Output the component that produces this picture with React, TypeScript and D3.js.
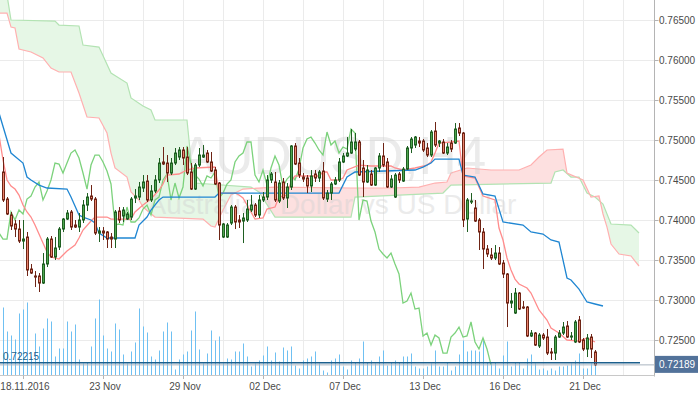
import React from 'react';
import * as d3 from 'd3';

// ---------- DATA ----------
const priceTicks = [0.765, 0.76, 0.755, 0.75, 0.745, 0.74, 0.735, 0.73, 0.725];
const dateLabels = ['18.11.2016', '23 Nov', '29 Nov', '02 Dec', '07 Dec', '13 Dec', '16 Dec', '21 Dec'];
const dateLabelBars = [5, 25, 45, 65, 85, 105, 125, 145];

const open = [
  0.74600,0.74262,0.74062,0.73950,0.73887,0.73737,0.73787,0.73387,0.73300,0.73300,
  0.73212,0.73450,0.73762,0.73537,0.73662,0.73887,0.74012,0.74100,0.73937,0.73912,
  0.74000,0.74187,0.74300,0.74262,0.73837,0.73862,0.73850,0.73787,0.73762,0.74112,
  0.74050,0.74012,0.74037,0.74275,0.74287,0.74400,0.74487,0.74250,0.74362,0.74500,
  0.74725,0.74712,0.74587,0.74712,0.74787,0.74875,0.74787,0.74600,0.74387,0.74687,
  0.74787,0.74837,0.74725,0.74625,0.74462,0.73787,0.73787,0.73962,0.74162,0.74000,
  0.73987,0.74000,0.74125,0.74187,0.74062,0.74250,0.74287,0.74500,0.74475,0.74237,
  0.74475,0.74275,0.74412,0.74925,0.74712,0.74537,0.74525,0.74425,0.74575,0.74525,
  0.74612,0.74262,0.74337,0.74450,0.74500,0.74725,0.74800,0.74837,0.74887,0.74975,
  0.74650,0.74475,0.74575,0.74437,0.74650,0.74800,0.74725,0.74412,0.74287,0.74575,
  0.74487,0.74637,0.74900,0.74937,0.74987,0.74987,0.74900,0.74812,0.75112,0.74962,
  0.74975,0.74837,0.74962,0.74962,0.75150,0.75087,0.74012,0.74225,0.74150,0.74000,
  0.73850,0.73637,0.73562,0.73525,0.73587,0.73462,0.73325,0.72962,0.72837,0.73087,
  0.72912,0.72912,0.72550,0.72587,0.72425,0.72562,0.72537,0.72350,0.72337,0.72537,
  0.72587,0.72675,0.72537,0.72475,0.72750,0.72500,0.72387,0.72537,0.72350];
const high = [
  0.74787,0.74287,0.74100,0.74000,0.74000,0.74000,0.73850,0.73450,0.73362,0.73337,
  0.73587,0.73787,0.73800,0.73787,0.73912,0.74025,0.74125,0.74125,0.74000,0.74087,
  0.74250,0.74337,0.74437,0.74287,0.73912,0.73912,0.73862,0.73837,0.74125,0.74162,
  0.74162,0.74100,0.74287,0.74387,0.74475,0.74562,0.74562,0.74437,0.74562,0.74775,
  0.74912,0.74812,0.74775,0.74900,0.74912,0.74912,0.74912,0.74712,0.74712,0.74900,
  0.74937,0.74875,0.74850,0.74662,0.74475,0.73962,0.73962,0.74187,0.74187,0.74062,
  0.74087,0.74250,0.74312,0.74212,0.74312,0.74350,0.74562,0.74600,0.74600,0.74500,
  0.74525,0.74462,0.74937,0.74962,0.74775,0.74587,0.74562,0.74625,0.74625,0.74625,
  0.74725,0.74375,0.74475,0.74537,0.74775,0.74837,0.75037,0.75137,0.75087,0.75000,
  0.74750,0.74687,0.74625,0.74662,0.74837,0.74962,0.74775,0.74562,0.74587,0.74600,
  0.74662,0.74925,0.75037,0.75050,0.75037,0.75012,0.74962,0.75125,0.75225,0.75000,
  0.75012,0.74962,0.75000,0.75212,0.75212,0.75100,0.74275,0.74337,0.74250,0.74025,
  0.73900,0.73687,0.73650,0.73687,0.73662,0.73500,0.73337,0.73087,0.73150,0.73100,
  0.72987,0.72925,0.72625,0.72600,0.72587,0.72587,0.72637,0.72400,0.72562,0.72625,
  0.72725,0.72737,0.72600,0.72750,0.72800,0.72525,0.72575,0.72575,0.72375];
const low = [
  0.74225,0.74062,0.73875,0.73787,0.73712,0.73637,0.73300,0.73325,0.73162,0.73100,
  0.73200,0.73412,0.73525,0.73500,0.73625,0.73850,0.74000,0.73875,0.73900,0.73850,
  0.73962,0.74112,0.74237,0.73812,0.73725,0.73750,0.73650,0.73650,0.73650,0.73962,
  0.73975,0.74000,0.74000,0.74212,0.74250,0.74350,0.74225,0.74225,0.74337,0.74462,
  0.74687,0.74475,0.74562,0.74687,0.74750,0.74687,0.74562,0.74375,0.74375,0.74662,
  0.74775,0.74712,0.74600,0.74437,0.73750,0.73775,0.73775,0.73937,0.73887,0.73900,
  0.73712,0.73975,0.74100,0.74037,0.74025,0.74225,0.74250,0.74462,0.74225,0.74212,
  0.74250,0.74150,0.74375,0.74687,0.74525,0.74475,0.74337,0.74350,0.74475,0.74475,
  0.74250,0.74225,0.74250,0.74437,0.74475,0.74712,0.74787,0.74825,0.74862,0.74550,
  0.74287,0.74462,0.74425,0.74425,0.74600,0.74662,0.74400,0.74400,0.74275,0.74462,
  0.74475,0.74625,0.74837,0.74900,0.74912,0.74850,0.74787,0.74787,0.74912,0.74912,
  0.74825,0.74812,0.74850,0.74950,0.75050,0.73912,0.73850,0.74200,0.73975,0.73625,
  0.73387,0.73537,0.73500,0.73500,0.73437,0.73275,0.72662,0.72900,0.72825,0.72875,
  0.72887,0.72537,0.72537,0.72425,0.72400,0.72500,0.72312,0.72250,0.72250,0.72525,
  0.72562,0.72525,0.72500,0.72462,0.72462,0.72362,0.72287,0.72275,0.72175];
const close = [
  0.74250,0.74075,0.73925,0.73887,0.73737,0.73762,0.73375,0.73337,0.73287,0.73212,
  0.73450,0.73762,0.73537,0.73650,0.73887,0.74012,0.74087,0.73912,0.73912,0.74000,
  0.74187,0.74287,0.74262,0.73837,0.73862,0.73837,0.73762,0.73762,0.74100,0.74000,
  0.74125,0.74075,0.74262,0.74300,0.74412,0.74475,0.74250,0.74362,0.74500,0.74712,
  0.74700,0.74587,0.74712,0.74837,0.74875,0.74775,0.74587,0.74387,0.74687,0.74812,
  0.74812,0.74725,0.74612,0.74450,0.73937,0.73950,0.73937,0.74162,0.73975,0.73975,
  0.74025,0.74137,0.74187,0.74062,0.74250,0.74287,0.74500,0.74575,0.74250,0.74462,
  0.74275,0.74412,0.74925,0.74700,0.74562,0.74512,0.74425,0.74550,0.74525,0.74600,
  0.74275,0.74337,0.74450,0.74500,0.74725,0.74800,0.74837,0.74975,0.74975,0.74562,
  0.74475,0.74625,0.74437,0.74650,0.74800,0.74687,0.74412,0.74512,0.74562,0.74500,
  0.74637,0.74900,0.75012,0.75037,0.74962,0.74875,0.74812,0.75100,0.74937,0.74987,
  0.74837,0.74912,0.74887,0.75137,0.75087,0.74000,0.74250,0.74237,0.73987,0.73850,
  0.73637,0.73575,0.73525,0.73587,0.73450,0.73325,0.72962,0.72987,0.73087,0.72887,
  0.72900,0.72550,0.72587,0.72437,0.72562,0.72525,0.72337,0.72337,0.72537,0.72587,
  0.72662,0.72537,0.72550,0.72725,0.72475,0.72387,0.72525,0.72387,0.72189];
const volume = [
  6800,4400,4000,3600,6200,6600,7300,1900,4200,2900,
  4700,5700,5400,1900,2700,2700,5400,4400,5100,1600,
  1200,1300,2900,5700,7600,4000,2700,2400,5200,4600,
  2100,1200,2400,3300,6700,4900,4300,1900,1600,2500,
  4400,5300,4400,600,1600,2100,2400,4500,6400,2600,
  1200,2200,4500,3500,3900,1200,1700,1600,2400,2400,
  3200,1900,900,1200,1500,2000,2900,1500,2300,1400,
  2800,2500,2900,1000,700,1500,1700,1900,2400,1200,
  500,300,1500,1700,2100,900,600,1500,1300,1700,
  3400,1300,1500,1200,1900,2500,1000,1300,1500,1300,
  1900,1900,2200,900,700,700,900,1200,2500,900,
  900,1300,500,900,2100,3500,2400,2500,2500,2400,
  3500,1300,1200,1300,700,2000,3400,900,1300,1300,
  700,1700,2100,1200,600,700,500,700,500,900,
  900,1000,1200,1500,2200,700,700,1200,1500];

// Ichimoku lines read as [bar index, price] vertices
const tenkan: [number, number][] = [
  [-1,0.75062],[0,0.74750],[1,0.74500],[2,0.74425],[3,0.74387],[4,0.74312],[5,0.74187],[6,0.74100],[7,0.74037],[8,0.73937],
  [10,0.73712],[11,0.73600],[12,0.73537],[14,0.73512],[15,0.73562],[16,0.73612],[18,0.73687],[19,0.73775],[20,0.73875],[22,0.73987],
  [23,0.74037],[26,0.74037],[27,0.74012],[32,0.74012],[33,0.74100],[35,0.74187],[37,0.74262],[39,0.74375],[40,0.74450],[41,0.74562],
  [44,0.74575],[46,0.74625],[48,0.74650],[53,0.74662],[54,0.74337],[58,0.74337],[59,0.74312],[60,0.74275],[61,0.74187],[62,0.74100],
  [63,0.74012],[65,0.74025],[66,0.74137],[68,0.74162],[69,0.74287],[71,0.74312],[72,0.74475],[73,0.74550],[79,0.74550],[80,0.74600],
  [81,0.74600],[82,0.74500],[84,0.74500],[85,0.74525],[86,0.74625],[89,0.74687],[92,0.74675],[97,0.74675],[98,0.74650],[100,0.74625],
  [103,0.74650],[106,0.74687],[107,0.74725],[108,0.74837],[109,0.74962],[112,0.74975],[114,0.74987],[115,0.74550],[118,0.74525],[120,0.74300],
  [123,0.74250],[124,0.73900],[125,0.73750],[126,0.73525],[127,0.73375],[128,0.73262],[129,0.73200],[131,0.73150],[132,0.73087],[134,0.72875],
  [136,0.72750],[137,0.72650],[139,0.72587],[141,0.72500],[144,0.72487],[146,0.72525],[148,0.72475]];
const kijun: [number, number][] = [
  [-1,0.75337],[2,0.74837],[5,0.74712],[6,0.74537],[7,0.74500],[9,0.74437],[11,0.74400],[16,0.74387],[17,0.74287],[19,0.74062],
  [20,0.74037],[22,0.74000],[23,0.73962],[24,0.73837],[26,0.73775],[33,0.73775],[34,0.73937],[36,0.74037],[37,0.74125],[39,0.74250],
  [40,0.74287],[53,0.74287],[54,0.74337],[84,0.74337],[86,0.74537],[88,0.74600],[103,0.74625],[105,0.74662],[107,0.74712],[108,0.74762],
  [114,0.74762],[115,0.74562],[118,0.74537],[120,0.74325],[123,0.74300],[125,0.73975],[130,0.73937],[132,0.73850],[135,0.73825],[137,0.73750],
  [139,0.73725],[141,0.73275],[142,0.73250],[144,0.73137],[146,0.72975],[148,0.72950],[150,0.72925]];
const spanGreen: [number, number][] = [
  [-1,0.76937],[1,0.76812],[2,0.76500],[13,0.76487],[14,0.76437],[19,0.76425],[20,0.76187],[24,0.76162],[27,0.75837],[31,0.75712],
  [32,0.75525],[35,0.75425],[37,0.75375],[38,0.75250],[46,0.75250],[47,0.74750],[48,0.74462],[62,0.74412],[64,0.74350],[68,0.74037],
  [87,0.74037],[88,0.74287],[110,0.74337],[112,0.74437],[137,0.74462],[138,0.74600],[140,0.74625],[142,0.74537],[144,0.74537],[146,0.74337],
  [148,0.74287],[150,0.74200],[151,0.74075],[152,0.73950],[157,0.73937],[158,0.73887],[159,0.73837]];
const spanRed: [number, number][] = [
  [-1,0.76587],[1,0.76587],[2,0.76412],[3,0.76400],[4,0.76137],[7,0.76100],[10,0.76025],[12,0.75900],[14,0.75850],[17,0.75850],
  [19,0.75587],[21,0.75287],[24,0.75275],[26,0.75087],[27,0.74837],[28,0.74650],[31,0.74537],[32,0.74350],[34,0.74250],[35,0.74162],
  [38,0.74037],[50,0.74012],[52,0.73925],[53,0.73912],[55,0.74125],[57,0.74312],[60,0.74387],[68,0.74412],[87,0.74400],[97,0.74400],
  [104,0.74412],[108,0.74462],[111,0.74475],[112,0.74587],[116,0.74650],[122,0.74625],[129,0.74625],[132,0.74687],[134,0.74787],[136,0.74875],
  [140,0.74887],[141,0.74587],[145,0.74500],[147,0.74287],[149,0.74300],[150,0.74075],[151,0.73912],[152,0.73700],[154,0.73575],[157,0.73550],
  [158,0.73487],[159,0.73425]];
const chikouShift = 26;
const markedLevel = 0.72215;
const lastPrice = 0.72189;

// ---------- LAYOUT ----------
const W = 700, H = 394;
const PR = 654.5;   // right edge of plot / axis line
const PB = 375.5;   // bottom axis line

const x = d3.scaleLinear().domain([0, 148]).range([3, 595]);
const y = d3.scaleLinear().domain([0.725, 0.765]).range([340, 20]);
const v = d3.scaleLinear().domain([0, 10000]).range([PB, PB - 100]);

const FONT = "'Liberation Sans', Arial, sans-serif";

export default function App() {
  const line = d3.line<[number, number]>().x(d => x(d[0])).y(d => y(d[1]));
  const between = line([...spanGreen, ...spanRed.slice().reverse()]) + 'Z';
  const aboveRed = line([...spanRed, [159, 0.78], [-1, 0.78]]) + 'Z';
  const belowRed = line([...spanRed, [159, 0.70], [-1, 0.70]]) + 'Z';
  const chikou: [number, number][] = close.slice(chikouShift - 1).map((c, k) => [k - 1, c]);
  const gridBars = d3.range(5, 156, 10);

  return (
    <svg width={W} height={H} style={{ position: 'absolute', left: 0, top: 0, background: '#fff' }}>
      <defs>
        <clipPath id="plot"><rect x={0} y={0} width={PR} height={PB} /></clipPath>
        <clipPath id="aboveR"><path d={aboveRed} /></clipPath>
        <clipPath id="belowR"><path d={belowRed} /></clipPath>
      </defs>
      <rect x={0} y={0} width={W} height={H} fill="#fff" />
      {/* grid */}
      <g stroke="#ebebeb" strokeWidth={1}>
        {gridBars.map(b => (
          <line key={'gv' + b} x1={Math.round(x(b)) + 0.5} x2={Math.round(x(b)) + 0.5} y1={0} y2={PB} />
        ))}
        {priceTicks.map(p => (
          <line key={'gh' + p} x1={0} x2={PR} y1={Math.round(y(p)) + 0.5} y2={Math.round(y(p)) + 0.5} />
        ))}
      </g>
      <g clipPath="url(#plot)">
        {/* volume */}
        {volume.map((vol, i) => (
          <rect key={'v' + i} x={Math.round(x(i))} y={v(vol)} width={1} height={PB - v(vol)} fill="#6fc0f2" />
        ))}
        {/* cloud */}
        <path d={between} fill="#e6f7e6" clipPath="url(#aboveR)" />
        <path d={between} fill="#fde0e0" clipPath="url(#belowR)" />
        <path d={line(spanGreen) || ''} fill="none" stroke="#b3e3b3" strokeWidth={1.2} />
        <path d={line(spanRed) || ''} fill="none" stroke="#ffb0b0" strokeWidth={1.2} />
        {/* watermark */}
        <g fill="#d0d0d0" opacity={0.42} fontFamily={FONT} textAnchor="middle">
          <text x={333} y={174} fontSize={53}>AUDUSD,H4</text>
          <text x={332} y={214} fontSize={28}>Australian Dollar vs US Dollar</text>
        </g>
        {/* ichimoku lines */}
        <path d={line(chikou) || ''} fill="none" stroke="#7cd27c" strokeWidth={1.3} />
        <path d={line(tenkan) || ''} fill="none" stroke="#ff8c8c" strokeWidth={1.3} />
        <path d={line(kijun) || ''} fill="none" stroke="#1f86d2" strokeWidth={1.3} />
        {/* candles */}
        {open.map((o, i) => {
          const c = close[i];
          const up = c >= o;
          const cx = Math.round(x(i));
          const top = y(Math.max(o, c));
          const bot = y(Math.min(o, c));
          const dark = up ? '#1f5f22' : '#6e2415';
          return (
            <g key={'c' + i}>
              <line x1={cx + 0.5} x2={cx + 0.5} y1={y(Math.max(high[i], o, c))} y2={y(Math.min(low[i], o, c))} stroke={dark} strokeWidth={1} />
              <rect x={cx - 0.5} y={top} width={2} height={Math.max(1, bot - top)} fill={up ? '#4fa64f' : '#e8826c'} stroke={dark} strokeWidth={1} />
            </g>
          );
        })}
        {/* price lines */}
        <line x1={0} x2={PR} y1={y(lastPrice)} y2={y(lastPrice)} stroke="#a9b4bf" strokeWidth={1} />
        <line x1={0} x2={x(159.25)} y1={y(markedLevel)} y2={y(markedLevel)} stroke="#1c5f8c" strokeWidth={1.5} />
        <text x={3} y={y(markedLevel) - 2.5} fontSize={10} fontFamily={FONT} fill="#1c5f8c">{markedLevel.toFixed(5)}</text>
      </g>
      {/* axes */}
      <line x1={PR} x2={PR} y1={0} y2={PB + 1} stroke="#b4b4b4" />
      <line x1={0} x2={PR} y1={PB} y2={PB} stroke="#c8c8c8" />
      {priceTicks.map(p => (
        <g key={'yt' + p}>
          <line x1={PR} x2={PR + 4} y1={Math.round(y(p)) + 0.5} y2={Math.round(y(p)) + 0.5} stroke="#b4b4b4" />
          <text x={PR + 4.5} y={y(p)} dy="0.35em" fontSize={10} fontFamily={FONT} fill="#4a4a4a">{p.toFixed(5)}</text>
        </g>
      ))}
      {dateLabelBars.map((b, k) => (
        <g key={'xt' + b}>
          <line x1={Math.round(x(b)) + 0.5} x2={Math.round(x(b)) + 0.5} y1={PB} y2={PB + 3.5} stroke="#b4b4b4" />
          <text x={x(b) + 2} y={390} textAnchor="middle" fontSize={10} fontFamily={FONT} fill="#4a4a4a">{dateLabels[k]}</text>
        </g>
      ))}
      {/* last price label */}
      <rect x={PR + 0.5} y={y(lastPrice) - 9} width={43} height={17} fill="#52729a" />
      <text x={PR + 4.5} y={y(lastPrice)} dy="0.35em" fontSize={10} fontFamily={FONT} fill="#fff">{lastPrice.toFixed(5)}</text>
    </svg>
  );
}
